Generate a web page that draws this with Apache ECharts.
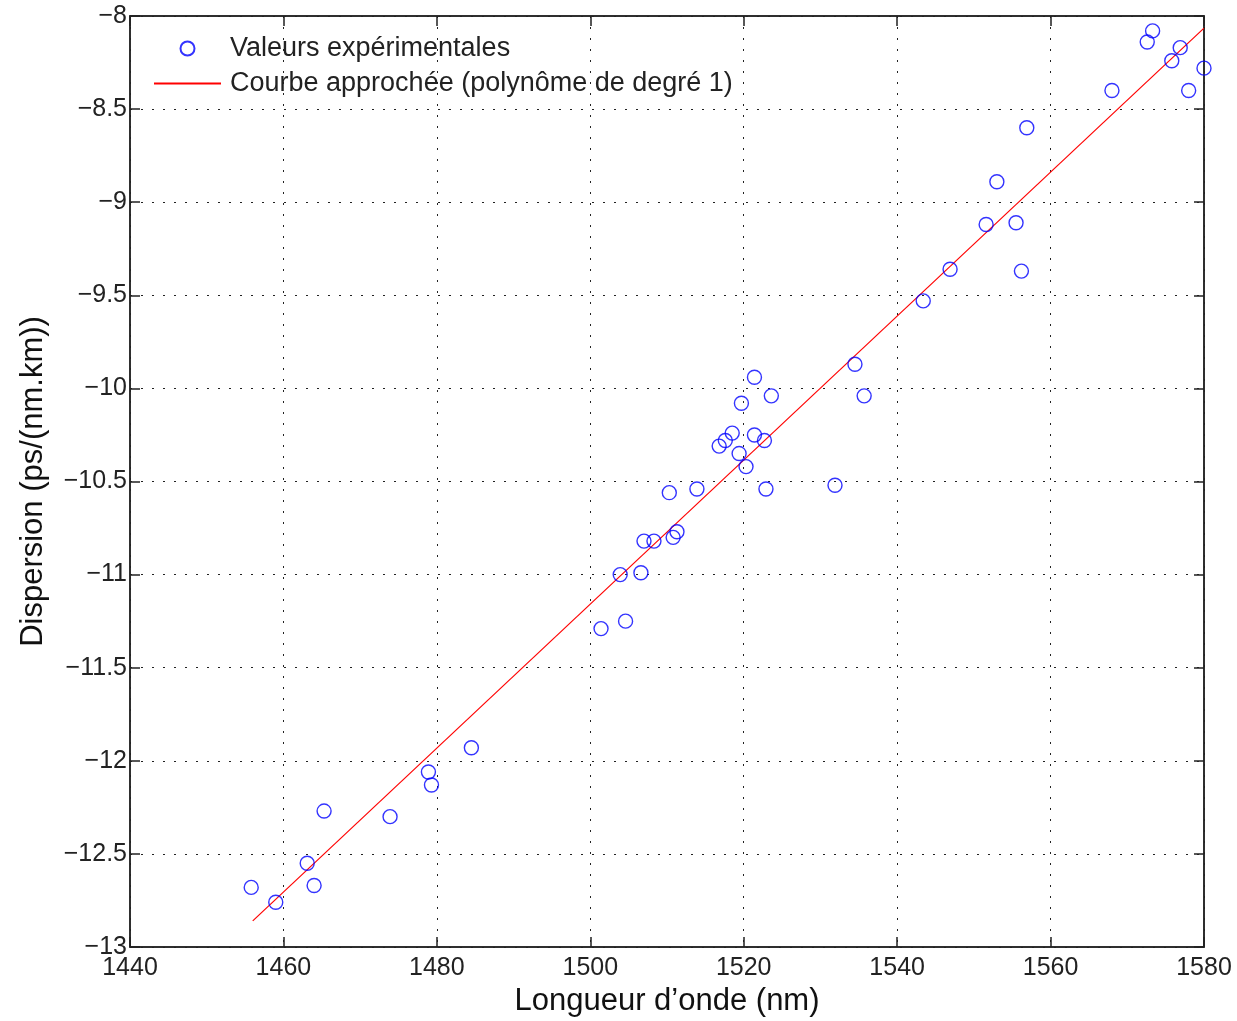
<!DOCTYPE html>
<html><head><meta charset="utf-8">
<script src="https://cdn.jsdelivr.net/npm/echarts@6/dist/echarts.min.js"></script>
<style>html,body{margin:0;padding:0;background:#fff}#c{width:1237px;height:1021px}</style>
</head><body><div id="c"></div>
<script>
const wavelength = [1455.8,1459.0,1463.1,1464.0,1465.3,1473.9,1478.9,1479.3,1484.5,1501.4,1503.9,1504.6,1506.6,1507.0,1508.3,1510.3,1510.8,1511.3,1513.9,1516.8,1517.6,1518.5,1519.4,1519.7,1520.3,1521.4,1521.4,1522.7,1522.9,1523.6,1531.9,1534.5,1535.7,1543.4,1546.9,1551.6,1553.0,1555.5,1556.2,1556.9,1568.0,1572.6,1573.3,1575.8,1576.9,1578.0,1580.0];
const dispersion = [-12.68,-12.76,-12.55,-12.67,-12.27,-12.30,-12.06,-12.13,-11.93,-11.29,-11.00,-11.25,-10.99,-10.82,-10.82,-10.56,-10.80,-10.77,-10.54,-10.31,-10.28,-10.24,-10.35,-10.08,-10.42,-9.94,-10.25,-10.28,-10.54,-10.04,-10.52,-9.87,-10.04,-9.53,-9.36,-9.12,-8.89,-9.11,-9.37,-8.60,-8.40,-8.14,-8.08,-8.24,-8.17,-8.40,-8.28];
const fitX = [1456.0, 1580.0];
const fitY = [-12.86, -8.065];
const seriesNames = ['Valeurs expérimentales', 'Courbe approchée (polynôme de degré 1)'];
const xTitle = 'Longueur d\u2019onde (nm)';
const yTitle = 'Dispersion (ps/(nm.km))';

const pts = wavelength.map((x, i) => [x, dispersion[i]]);
const fit = fitX.map((x, i) => [x, fitY[i]]);
const FONT = '"Liberation Sans", Arial, sans-serif';
const dotted = {type: [2, 9], color: '#222', width: 1};
const fmtY = v => (v < 0 ? '\u2212' : '') + String(Math.abs(+v.toFixed(2)));
const fmtX = v => String(v);

const chart = echarts.init(document.getElementById('c'), null, {renderer: 'canvas'});
chart.setOption({
  animation: false,
  backgroundColor: '#fff',
  textStyle: {fontFamily: FONT},
  grid: {left: 130, right: 33, top: 16, bottom: 74, outerBoundsMode: 'none', containLabel: false,
         show: true, borderColor: '#222', borderWidth: 1.5, backgroundColor: 'transparent'},
  legend: {
    orient: 'vertical', left: 148, top: 30, itemWidth: 67, itemHeight: 14, itemGap: 8,
    textStyle: {fontSize: 27, color: '#222', fontFamily: FONT, padding: [0, 0, 0, 4]},
    data: [{name: seriesNames[0]}, {name: seriesNames[1], itemStyle: {opacity: 0}}]
  },
  xAxis: [{
    type: 'value', min: 1440, max: 1580, interval: 20, position: 'bottom',
    name: xTitle, nameLocation: 'middle', nameGap: 37,
    nameTextStyle: {fontSize: 31, color: '#111', fontFamily: FONT},
    axisLine: {show: true, lineStyle: {color: '#222', width: 1.5}},
    axisTick: {show: true, inside: true, length: 10, lineStyle: {color: '#222', width: 1.5}},
    axisLabel: {fontSize: 25, color: '#222', margin: 9, fontFamily: FONT, formatter: fmtX},
    splitLine: {show: true, lineStyle: dotted}
  }, {
    type: 'value', min: 1440, max: 1580, interval: 20, position: 'top',
    axisLine: {show: true, lineStyle: {color: '#222', width: 1.5}},
    axisTick: {show: true, inside: true, length: 10, lineStyle: {color: '#222', width: 1.5}},
    axisLabel: {show: false}, splitLine: {show: false}
  }],
  yAxis: [{
    type: 'value', min: -13, max: -8, interval: 0.5, position: 'left',
    name: yTitle, nameLocation: 'middle', nameGap: 81, nameRotate: 90,
    nameTextStyle: {fontSize: 31, color: '#111', fontFamily: FONT},
    axisLine: {show: true, lineStyle: {color: '#222', width: 1.5}},
    axisTick: {show: true, inside: true, length: 10, lineStyle: {color: '#222', width: 1.5}},
    axisLabel: {fontSize: 25, color: '#222', margin: 3, fontFamily: FONT, formatter: fmtY},
    splitLine: {show: true, lineStyle: dotted}
  }, {
    type: 'value', min: -13, max: -8, interval: 0.5, position: 'right',
    axisLine: {show: true, lineStyle: {color: '#222', width: 1.5}},
    axisTick: {show: true, inside: true, length: 10, lineStyle: {color: '#222', width: 1.5}},
    axisLabel: {show: false}, splitLine: {show: false}
  }],
  series: [{
    name: seriesNames[0], type: 'scatter', xAxisIndex: 0, yAxisIndex: 0,
    symbol: 'circle', symbolSize: 14,
    itemStyle: {color: 'rgba(0,0,0,0)', borderColor: '#0000ff', borderWidth: 1.4},
    data: pts, z: 3
  }, {
    name: seriesNames[1], type: 'line', xAxisIndex: 0, yAxisIndex: 0,
    showSymbol: false, symbol: 'none',
    lineStyle: {color: '#ff0000', width: 1.2}, itemStyle: {color: '#ff0000'},
    data: fit, z: 2
  }]
});
</script></body></html>
